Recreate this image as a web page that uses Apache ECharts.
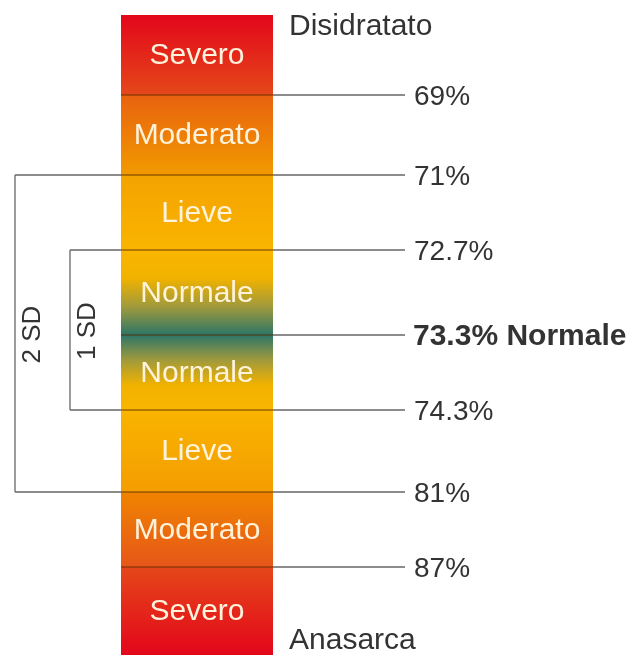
<!DOCTYPE html>
<html>
<head>
<meta charset="utf-8">
<title>Idratazione</title>
<script src="https://cdn.jsdelivr.net/npm/echarts@6/dist/echarts.min.js"></script>
<style>
  * { margin: 0; padding: 0; }
  body { background: #fff; }
  #main { width: 632px; height: 655px; }
</style>
</head>
<body>
<div id="main"></div>
<script>
// segmenti della barra, dall'alto verso il basso
var segments = ['Severo', 'Moderato', 'Lieve', 'Normale', 'Normale', 'Lieve', 'Moderato', 'Severo'];
// confini dei segmenti sulla scala (schematica, non proporzionale)
var boundaryPos = [0, 80, 160, 235, 320, 395, 477, 552, 640];
var boundaryLabels = ['', '69%', '71%', '72.7%', '73.3% Normale', '74.3%', '81%', '87%', ''];
var endLabels = ['Disidratato', 'Anasarca'];
// parentesi deviazione standard (indici dei confini)
var sdNames = ['2 SD', '1 SD'];
var sdFrom = [2, 3];
var sdTo = [6, 5];

// stile
var segColors = [
  ['#e3061b', '#e5481a'],
  ['#e9620f', '#f29a00'],
  ['#f4a300', '#f9b400'],
  ['#fab600', '#f1b200', '#a09a3c', '#2c7668'],
  ['#2c7668', '#a09a3c', '#f1b200', '#fab600'],
  ['#f9b400', '#f49d00'],
  ['#ef8400', '#e75619'],
  ['#e5471a', '#e3061b']
];
var barLeft = 121, barRight = 273, lineEnd = 405, labelX = 414;
var sdX = [15, 70], sdTextX = [33, 88];
var font = '"Liberation Sans", Arial, sans-serif';

function gradient(cols) {
  var stops = cols.map(function (c, i) { return { offset: i / (cols.length - 1), color: c }; });
  return new echarts.graphic.LinearGradient(0, 0, 0, 1, stops);
}

var segData = segments.map(function (s, i) { return [i, boundaryPos[i], boundaryPos[i + 1]]; });

var lineData = [];
for (var k = 1; k < boundaryPos.length - 1; k++) {
  var left = barLeft;
  for (var j = 0; j < sdNames.length; j++) {
    if (sdFrom[j] === k || sdTo[j] === k) left = sdX[j];
  }
  lineData.push([k, boundaryPos[k], left]);
}

var sdData = sdNames.map(function (n, j) { return [j, boundaryPos[sdFrom[j]], boundaryPos[sdTo[j]]]; });

var myChart = echarts.init(document.getElementById('main'));

var option = {
  animation: false,
  grid: { left: 0, right: 0, top: 15, height: 640 },
  xAxis: { type: 'value', min: 0, max: 632, show: false },
  yAxis: { type: 'value', min: 0, max: 640, inverse: true, show: false },
  series: [
    {
      type: 'custom',
      data: segData,
      encode: { y: [1, 2] },
      renderItem: function (params, api) {
        var i = api.value(0);
        var p0 = api.coord([barLeft, api.value(1)]);
        var p1 = api.coord([barRight, api.value(2)]);
        return {
          type: 'group',
          children: [
            {
              type: 'rect',
              shape: { x: p0[0], y: p0[1], width: p1[0] - p0[0], height: p1[1] - p0[1] },
              style: { fill: gradient(segColors[i]) }
            },
            {
              type: 'text',
              x: (p0[0] + p1[0]) / 2,
              y: (p0[1] + p1[1]) / 2 + 1,
              style: {
                text: segments[i], fill: '#fff3dc', align: 'center', verticalAlign: 'middle',
                font: '30px ' + font
              }
            }
          ]
        };
      }
    },
    {
      type: 'custom',
      data: lineData,
      encode: { y: 1 },
      renderItem: function (params, api) {
        var k = api.value(0);
        var y = api.coord([0, api.value(1)])[1];
        var xl = api.coord([api.value(2), 0])[0];
        var xb0 = api.coord([barLeft, 0])[0];
        var xb1 = api.coord([barRight, 0])[0];
        var xe = api.coord([lineEnd, 0])[0];
        var children = [];
        if (xl < xb0) {
          children.push({ type: 'line', shape: { x1: xl, y1: y, x2: xb0, y2: y }, style: { stroke: '#666', lineWidth: 1.3 } });
        }
        children.push({ type: 'line', shape: { x1: xb0, y1: y, x2: xb1, y2: y }, style: { stroke: 'rgba(90,45,0,0.45)', lineWidth: 2 } });
        children.push({ type: 'line', shape: { x1: xb1, y1: y, x2: xe, y2: y }, style: { stroke: '#666', lineWidth: 1.3 } });
        children.push({
          type: 'text', x: api.coord([k === 4 ? labelX - 1 : labelX, 0])[0], y: y + 2,
          style: {
            text: boundaryLabels[k], fill: '#333', align: 'left', verticalAlign: 'middle',
            font: (k === 4 ? 'bold 30px ' : '28px ') + font
          }
        });
        return { type: 'group', children: children };
      }
    },
    {
      type: 'custom',
      data: sdData,
      encode: { y: [1, 2] },
      renderItem: function (params, api) {
        var j = api.value(0);
        var x = api.coord([sdX[j], 0])[0];
        var y0 = api.coord([0, api.value(1)])[1];
        var y1 = api.coord([0, api.value(2)])[1];
        return {
          type: 'group',
          children: [
            { type: 'line', shape: { x1: x, y1: y0, x2: x, y2: y1 }, style: { stroke: '#666', lineWidth: 1.3 } },
            {
              type: 'text', x: api.coord([sdTextX[j], 0])[0], y: (y0 + y1) / 2 + 1, rotation: Math.PI / 2,
              style: { text: sdNames[j], fill: '#333', align: 'center', verticalAlign: 'middle', font: '26px ' + font }
            }
          ]
        };
      }
    },
    {
      type: 'custom',
      data: [[0, boundaryPos[0]], [1, boundaryPos[boundaryPos.length - 1]]],
      encode: { y: 1 },
      renderItem: function (params, api) {
        var i = api.value(0);
        var y = api.coord([0, api.value(1)])[1];
        return {
          type: 'text', x: api.coord([barRight + 16, 0])[0], y: i === 0 ? y + 12 : y - 14,
          style: { text: endLabels[i], fill: '#333', align: 'left', verticalAlign: 'middle', font: '30px ' + font }
        };
      }
    }
  ]
};

myChart.setOption(option);
</script>
</body>
</html>
